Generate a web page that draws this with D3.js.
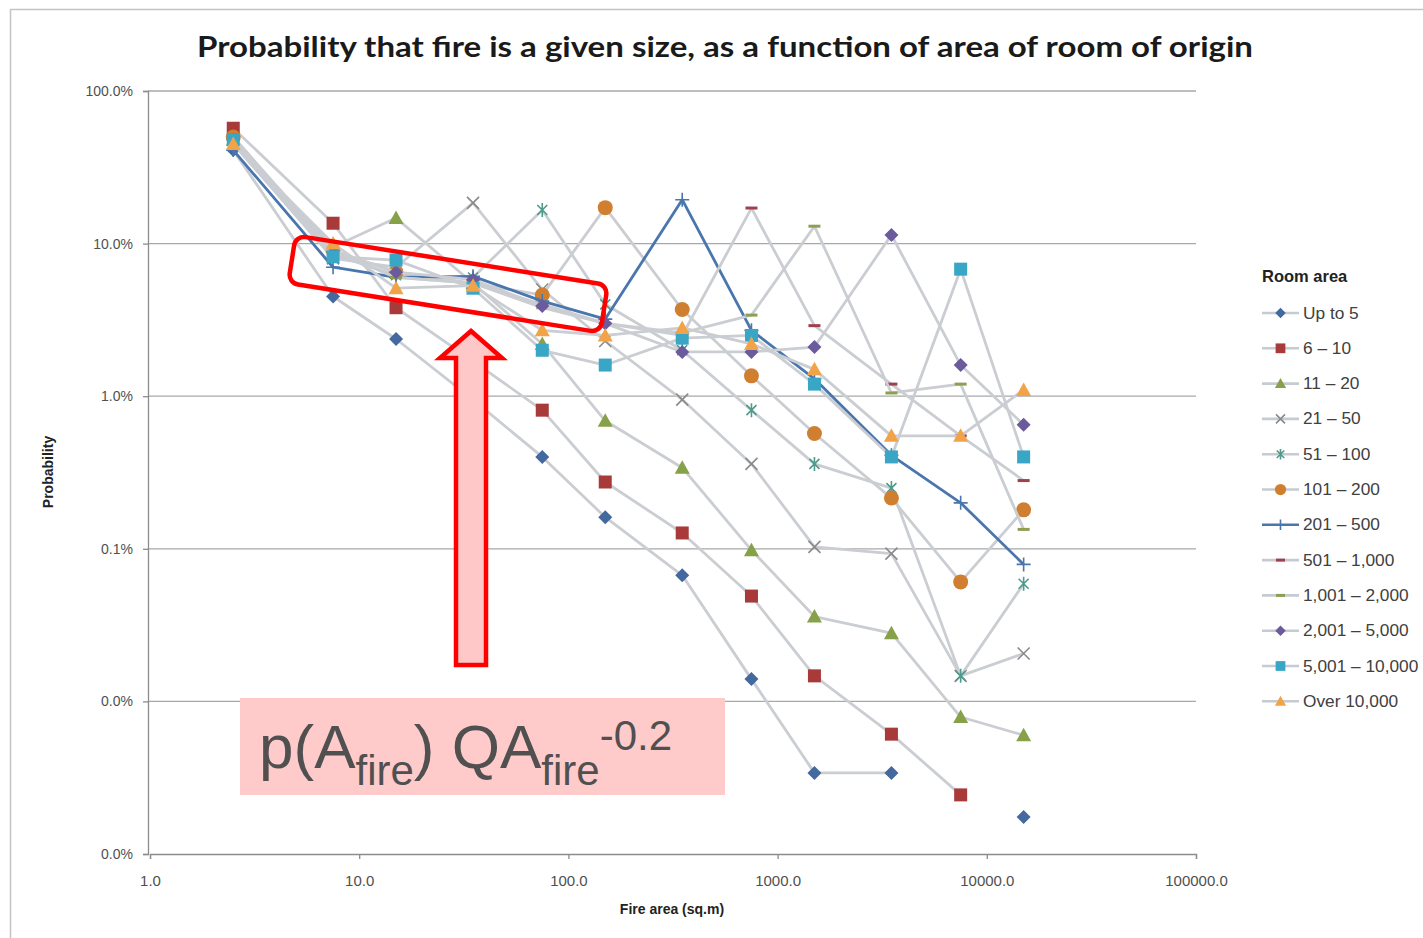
<!DOCTYPE html>
<html><head><meta charset="utf-8">
<script src="https://cdn.jsdelivr.net/npm/d3@7"></script>
<style>body{margin:0;background:#fff;}svg{display:block;}</style>
</head><body>
<svg id="chart" width="1423" height="938"></svg>
<script>
// ---- data (probabilities in %) ----
const fireArea = [2.5, 7.5, 15, 35, 75, 150, 350, 750, 1500, 3500, 7500, 15000];
const seriesNames = ["Up to 5","6 \u2013 10","11 \u2013 20","21 \u2013 50","51 \u2013 100","101 \u2013 200","201 \u2013 500","501 \u2013 1,000","1,001 \u2013 2,000","2,001 \u2013 5,000","5,001 \u2013 10,000","Over 10,000"];
const upTo5      = [41, 4.5, 2.37, 0.95, 0.40, 0.161, 0.067, 0.014, 0.0034, 0.0034, null, 0.00175];
const s6_10      = [57, 13.6, 3.8, 1.7, 0.81, 0.274, 0.127, 0.049, 0.0147, 0.0061, 0.00244, null];
const s11_20     = [48, 9.5, 14.7, 5.5, 2.2, 0.69, 0.34, 0.098, 0.036, 0.028, 0.0079, 0.006];
const s21_50     = [45, 8, 7, 18.5, 5.0, 2.3, 0.95, 0.36, 0.103, 0.093, 0.0147, 0.0206];
const s51_100    = [46, 8.5, 6.2, 6.0, 16.6, 4.0, 2.0, 0.81, 0.36, 0.25, 0.0147, 0.059];
const s101_200   = [50, 9, 6.5, 5.5, 4.6, 17.2, 3.7, 1.36, 0.57, 0.215, 0.0607, 0.18];
const s201_500   = [41, 7.0, 6.0, 6.1, 4.2, 3.2, 19.4, 2.7, 1.3, 0.41, 0.2, 0.079];
const s501_1000  = [50, 9, 6, 5.5, 4, 3, 2.5, 17.1, 2.9, 1.2, 0.55, 0.28];
const s1001_2000 = [48, 9, 6, 5.5, 3.8, 3, 2.6, 3.4, 13.0, 1.05, 1.2, 0.134];
const s2001_5000 = [48, 9, 6.5, 5.8, 3.9, 3.0, 1.95, 1.95, 2.1, 11.4, 1.6, 0.65];
const s5001_10000= [48, 8.2, 7.8, 5.1, 2.0, 1.6, 2.4, 2.5, 1.2, 0.40, 6.8, 0.40];
const sOver10000 = [45, 10, 5.1, 5.3, 2.7, 2.5, 2.8, 2.2, 1.5, 0.55, 0.55, 1.1];
const yTicks = [1, 0.1, 0.01, 0.001, 0.0001, 0.00001];
const xTicks = [1, 10, 100, 1000, 10000, 100000];

const allSeries = [upTo5, s6_10, s11_20, s21_50, s51_100, s101_200, s201_500, s501_1000, s1001_2000, s2001_5000, s5001_10000, sOver10000];
const colors = ["#44699E","#A93A3A","#87A04A","#8A8A8A","#4E9A8C","#D07F30","#4A76AE","#A0404E","#8E9F52","#6B5A9C","#3AA6C6","#F2A347"];
const markers = ["diamond","square","triangle","x","star","circle","plus","dash","dash","diamond","square","triangle"];

const svg = d3.select("#chart");
const x = d3.scaleLog().domain([1, 100000]).range([150, 1196]);
const y = d3.scaleLog().domain([0.00001, 1]).range([854, 91]);

// frame
svg.append("rect").attr("x",10.5).attr("y",9.5).attr("width",1500).attr("height",1000)
  .attr("fill","none").attr("stroke","#C4C4C4").attr("stroke-width",1.5);

// title
svg.append("text").attr("x",725).attr("y",57).attr("text-anchor","middle")
  .attr("font-family","Lato, 'Open Sans', sans-serif").attr("font-weight","bold").attr("font-size",28)
  .attr("fill","#1a1a1a").attr("textLength",1056).attr("lengthAdjust","spacingAndGlyphs")
  .text("Probability that fire is a given size, as a function of area of room of origin");

// grid
svg.append("g").selectAll("line").data(yTicks.slice(0,5)).join("line")
  .attr("x1",148).attr("x2",1196).attr("y1",d=>y(d)).attr("y2",d=>y(d))
  .attr("stroke","#A8A8A8").attr("stroke-width",1.3);

// axes
const yAxis = d3.axisLeft(y).tickValues(yTicks).tickFormat(d3.format(".1%")).tickSize(5).tickPadding(10);
const gy = svg.append("g").attr("transform","translate(148,0)").call(yAxis);
const xAxis = d3.axisBottom(x).tickValues(xTicks).tickFormat(d3.format(".1f")).tickSize(5).tickPadding(16);
const gx = svg.append("g").attr("transform","translate(0,854)").call(xAxis);
[gx, gy].forEach(g => {
  g.select(".domain").attr("stroke","#8C8C8C").attr("stroke-width",1.3);
  g.selectAll(".tick line").attr("stroke","#8C8C8C").attr("stroke-width",1.3);
  g.selectAll(".tick text").attr("fill","#505050").attr("font-family","'Liberation Sans', Arial, sans-serif").attr("font-size",15);
});
gy.selectAll(".tick text").attr("font-size",14);

// axis titles
svg.append("text").attr("x",672).attr("y",914).attr("text-anchor","middle")
  .attr("font-family","'Liberation Sans', Arial, sans-serif").attr("font-weight","bold").attr("font-size",14).attr("fill","#222")
  .text("Fire area (sq.m)");
svg.append("text").attr("transform","translate(53,472) rotate(-90)").attr("text-anchor","middle")
  .attr("font-family","'Liberation Sans', Arial, sans-serif").attr("font-weight","bold").attr("font-size",14).attr("fill","#222")
  .text("Probability");

// marker drawing
function drawMarker(g, type, color, s) {
  s = s || 1;
  if (type === "diamond") g.append("path").attr("d", `M0,${-7*s}L${7*s},0L0,${7*s}L${-7*s},0Z`).attr("fill", color);
  else if (type === "square") g.append("rect").attr("x",-6.5*s).attr("y",-6.5*s).attr("width",13*s).attr("height",13*s).attr("fill",color);
  else if (type === "triangle") g.append("path").attr("d", `M0,${-7.5*s}L${7.5*s},${6*s}L${-7.5*s},${6*s}Z`).attr("fill", color);
  else if (type === "circle") g.append("circle").attr("r",7.5*s).attr("fill",color);
  else if (type === "x") g.append("path").attr("d", `M${-6*s},${-6*s}L${6*s},${6*s}M${-6*s},${6*s}L${6*s},${-6*s}`).attr("stroke",color).attr("stroke-width",1.6).attr("fill","none");
  else if (type === "star") g.append("path").attr("d", `M${-5*s},${-5*s}L${5*s},${5*s}M${-5*s},${5*s}L${5*s},${-5*s}M0,${-7*s}L0,${7*s}`).attr("stroke",color).attr("stroke-width",1.6).attr("fill","none");
  else if (type === "plus") g.append("path").attr("d", `M${-7*s},0L${7*s},0M0,${-7*s}L0,${7*s}`).attr("stroke",color).attr("stroke-width",1.6).attr("fill","none");
  else if (type === "dash") g.append("path").attr("d", `M${-6*s},0L${6*s},0`).attr("stroke",color).attr("stroke-width",3).attr("fill","none");
}

const line = d3.line().defined(d => d.v != null).x(d => x(d.a)).y(d => y(d.v / 100));
allSeries.forEach((vals, i) => {
  const pts = fireArea.map((a, j) => ({a, v: vals[j]}));
  const isBlue = i === 6;
  const g = svg.append("g");
  g.append("path").attr("d", line(pts)).attr("fill","none")
    .attr("stroke", isBlue ? "#4A76AE" : "#CACDD2").attr("stroke-width", 2.8)
    .attr("stroke-linejoin","round");
  pts.filter(d => d.v != null).forEach(d => {
    const mg = g.append("g").attr("transform", `translate(${x(d.a)},${y(d.v/100)})`);
    drawMarker(mg, markers[i], colors[i]);
  });
});

// legend
const lg = svg.append("g");
lg.append("text").attr("x",1262).attr("y",282).attr("font-family","'Liberation Sans', Arial, sans-serif")
  .attr("font-weight","bold").attr("font-size",16.5).attr("fill","#222").text("Room area");
seriesNames.forEach((name, i) => {
  const yy = 313 + i * 35.3;
  const isBlue = i === 6;
  lg.append("line").attr("x1",1262).attr("x2",1299).attr("y1",yy).attr("y2",yy)
    .attr("stroke", isBlue ? "#4A76AE" : "#C6CBD2").attr("stroke-width", 2.6);
  const mg = lg.append("g").attr("transform", `translate(1280.5,${yy})`);
  drawMarker(mg, markers[i], colors[i], 0.75);
  lg.append("text").attr("x",1303).attr("y",yy+5.5).attr("font-family","'Liberation Sans', Arial, sans-serif")
    .attr("font-size",17.3).attr("fill","#404040").text(name);
});

// annotations: rounded rectangle
svg.append("rect").attr("transform","translate(448,284) rotate(9)")
  .attr("x",-158).attr("y",-24).attr("width",316).attr("height",48).attr("rx",10)
  .attr("fill","none").attr("stroke","#FF0000").attr("stroke-width",4.5);

// arrow
svg.append("path").attr("d","M471,331 L502,358 L486,358 L486,665 L456,665 L456,358 L440,358 Z")
  .attr("fill","#FFC8C8").attr("stroke","#FF0000").attr("stroke-width",4.5).attr("stroke-linejoin","miter");

// pink box with formula
svg.append("rect").attr("x",240).attr("y",698).attr("width",485).attr("height",97).attr("fill","#FFCACA");
const ft = svg.append("text").attr("x",259).attr("y",768).attr("font-family","'Liberation Sans', Arial, sans-serif")
  .attr("font-size",62).attr("fill","#505050");
ft.append("tspan").text("p(A");
ft.append("tspan").attr("font-size",42).attr("dy",17).text("fire");
ft.append("tspan").attr("dy",-17).text(") QA");
ft.append("tspan").attr("font-size",42).attr("dy",17).text("fire");
ft.append("tspan").attr("font-size",42).attr("dy",-35).text("-0.2");
</script>
</body></html>
